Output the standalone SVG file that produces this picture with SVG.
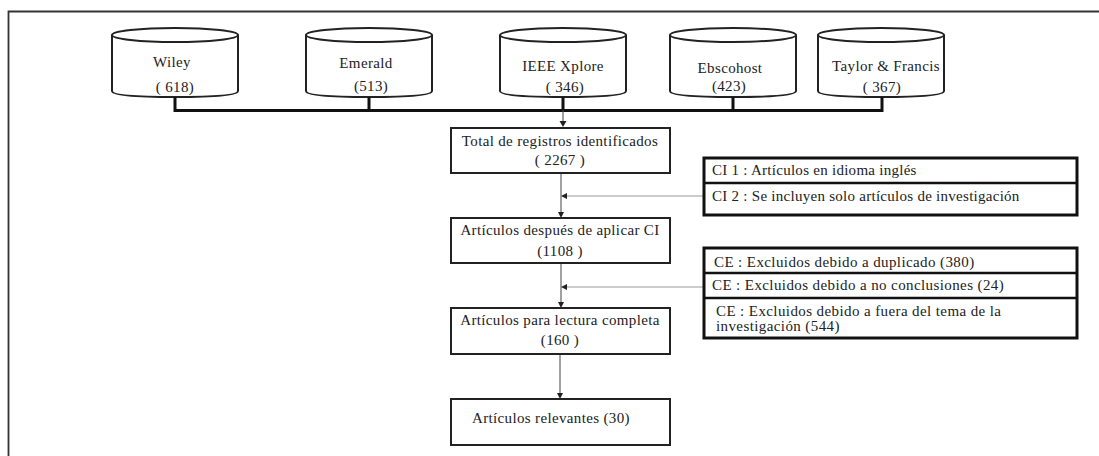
<svg xmlns="http://www.w3.org/2000/svg" width="1099" height="456" viewBox="0 0 1099 456">
<style>
text{font-family:"Liberation Serif","Times New Roman",serif;font-size:15px;letter-spacing:.35px;fill:#222}
.m{text-anchor:middle}
.box{fill:#fff;stroke:#222;stroke-width:2}
.thick{fill:#fff;stroke:#111;stroke-width:3}
.div{fill:none;stroke:#111;stroke-width:2.5}
.cyl{fill:#fff;stroke:#222;stroke-width:2}
.bus{fill:none;stroke:#111;stroke-width:3}
.ln{fill:none;stroke:#444;stroke-width:1}
.gr{fill:none;stroke:#999;stroke-width:1.2}
.ah{fill:#222}
#ci text{letter-spacing:.27px}
#ce text{letter-spacing:.4px}
</style>
<defs>
<g id="db">
<path class="cyl" d="M0 7A63 7 0 0 1 126 7V63Q126 69 63 69Q0 69 0 63Z"/>
<path class="cyl" d="M0 7A63 7 0 0 0 126 7"/>
</g>
</defs>
<path id="frame" d="M8.500 456V11.500H1099" fill="none" stroke="#333" stroke-width="1.800"/>
<g id="wiley"><use href="#db" x="112" y="28"/><text x="172" y="67" class="m">Wiley</text><text x="175" y="92" class="m">( 618)</text></g>
<g id="emerald"><use href="#db" x="306" y="28"/><text x="366" y="68" class="m">Emerald</text><text x="371" y="91" class="m">(513)</text></g>
<g id="ieee"><use href="#db" x="500" y="28"/><text x="563" y="71" class="m">IEEE Xplore</text><text x="565" y="92" class="m">( 346)</text></g>
<g id="ebsco"><use href="#db" x="670" y="28"/><text x="730" y="73" class="m">Ebscohost</text><text x="729" y="91" class="m">(423)</text></g>
<g id="taylor"><use href="#db" x="818" y="28"/><text x="886" y="71" class="m">Taylor &amp; Francis</text><text x="882" y="92" class="m">( 367)</text></g>
<g id="connectors">
<path class="bus" d="M175 97V110.500H882V97M369 97V110M563 97V110M733 97V110"/>
<path class="ln" d="M563 110V122"/><path class="ah" d="M559.500 121H566.500L563 127Z"/>
<path class="ln" d="M561 173V213"/><path class="ah" d="M558 212H564L561 218Z"/>
<path class="gr" d="M704 196H566"/><path class="ah" d="M561 196L567 193V199Z"/>
<path class="ln" d="M561 263V303"/><path class="ah" d="M558 302H564L561 308Z"/>
<path class="gr" d="M704 287H566"/><path class="ah" d="M561 287L567 284V290Z"/>
<path class="ln" d="M560 354V394"/><path class="ah" d="M557 393H563L560 399Z"/>
</g>
<g id="total"><rect class="box" x="451" y="128" width="219" height="45"/><text x="560" y="146" class="m">Total de registros identificados</text><text x="560" y="165" class="m">( 2267 )</text></g>
<g id="aplicar"><rect class="box" x="451" y="218" width="219" height="45"/><text x="560" y="235" class="m">Artículos después de aplicar CI</text><text x="560" y="256" class="m">(1108 )</text></g>
<g id="lectura"><rect class="box" x="451" y="308" width="219" height="46"/><text x="560" y="325" class="m">Artículos para lectura completa</text><text x="560" y="345" class="m">(160 )</text></g>
<g id="relevantes"><rect class="box" x="451" y="399" width="219" height="46"/><text x="472" y="423">Artículos relevantes (30)</text></g>
<g id="ci"><rect class="thick" x="704" y="158" width="373" height="57"/><path class="div" d="M704 183H1077"/><text x="712" y="175">CI 1 :  Artículos en idioma inglés</text><text x="712" y="201">CI 2 : Se incluyen solo artículos de investigación</text></g>
<g id="ce"><rect class="thick" x="704" y="248" width="373" height="90"/><path class="div" d="M704 273H1077M704 298H1077"/><text x="714" y="267">CE : Excluidos debido a duplicado (380)</text><text x="712" y="290">CE : Excluidos debido a no conclusiones (24)</text><text x="716" y="316">CE : Excluidos debido a fuera del tema de la</text><text x="716" y="331">investigación (544)</text></g>
</svg>
